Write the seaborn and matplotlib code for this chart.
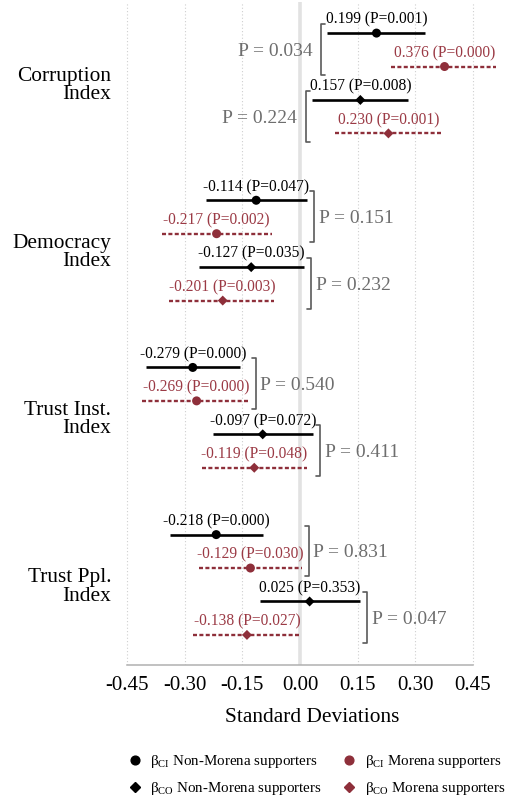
import numpy as np
import pandas as pd
import matplotlib
matplotlib.use("Agg")
import matplotlib.pyplot as plt
from matplotlib.lines import Line2D
import seaborn as sns

# ---- data -------------------------------------------------------------
indices = ["Corruption\nIndex", "Democracy\nIndex", "Trust Inst.\nIndex", "Trust Ppl.\nIndex"]
estimators = ["CI", "CI", "CO", "CO"]
groups = ["Non-Morena", "Morena", "Non-Morena", "Morena"]

coef = [
    [0.199, 0.376, 0.157, 0.230],
    [-0.114, -0.217, -0.127, -0.201],
    [-0.279, -0.269, -0.097, -0.119],
    [-0.218, -0.129, 0.025, -0.138],
]
pval = [
    [0.001, 0.000, 0.008, 0.001],
    [0.047, 0.002, 0.035, 0.003],
    [0.000, 0.000, 0.072, 0.048],
    [0.000, 0.030, 0.353, 0.027],
]
ci_low = [
    [0.070, 0.237, 0.031, 0.091],
    [-0.245, -0.359, -0.263, -0.340],
    [-0.401, -0.411, -0.226, -0.256],
    [-0.338, -0.263, -0.104, -0.278],
]
ci_high = [
    [0.325, 0.510, 0.281, 0.367],
    [0.018, -0.073, 0.010, -0.068],
    [-0.155, -0.134, 0.033, 0.017],
    [-0.095, 0.004, 0.156, -0.003],
]
# P-values for the Morena vs non-Morena difference (CI pair, CO pair)
diff_p = [
    [0.034, 0.224],
    [0.151, 0.232],
    [0.540, 0.411],
    [0.831, 0.047],
]
xticks = [-0.45, -0.30, -0.15, 0.00, 0.15, 0.30, 0.45]

# ---- long table -------------------------------------------------------
rows = []
for g, name in enumerate(indices):
    for k in range(4):
        rows.append(dict(index=name, pos=g * 5 + k, estimator=estimators[k],
                         group=groups[k], coef=coef[g][k], p=pval[g][k],
                         lo=ci_low[g][k], hi=ci_high[g][k]))
df = pd.DataFrame(rows)

# ---- style ------------------------------------------------------------
sns.set_theme(style="white")
plt.rcParams["font.family"] = ["Liberation Serif", "DejaVu Serif"]
plt.rcParams["mathtext.fontset"] = "custom"
plt.rcParams["mathtext.rm"] = "Liberation Serif"
plt.rcParams["axes.unicode_minus"] = False
for key in ["text.color", "axes.labelcolor", "xtick.labelcolor", "ytick.labelcolor"]:
    plt.rcParams[key] = "black"

BLACK = "#000000"
RED = "#8e2f3a"
RED_TXT = "#9b3a45"
GREY_TXT = "#6e6e6e"
BRACKET = "#5a5a5a"
palette = {"Non-Morena": BLACK, "Morena": RED}

fig = plt.figure(figsize=(5.06, 7.99), dpi=100)
W, H = 506, 799
ax_l, ax_r, ax_t, ax_b = 118, 506, 2, 665
ax = fig.add_axes([ax_l / W, 1 - ax_b / H, (ax_r - ax_l) / W, (ax_b - ax_t) / H])

# background guides
for xt in xticks:
    ax.axvline(xt, color="#cfcfcf", lw=0.8, ls=(0, (1, 2)), zorder=0)
ax.axvline(0, color="#e2e2e2", lw=2.6, zorder=0.5)

# confidence intervals
for _, r in df.iterrows():
    if r.group == "Morena":
        ax.plot([r.lo, r.hi], [r.pos, r.pos], color=RED, lw=1.7,
                ls=(0, (1.7, 1.0)), solid_capstyle="butt", zorder=2)
    else:
        ax.plot([r.lo, r.hi], [r.pos, r.pos], color=BLACK, lw=1.9,
                solid_capstyle="butt", zorder=2)

# point estimates
sub_o = df[df.estimator == "CI"]
sub_d = df[df.estimator == "CO"]
sns.scatterplot(data=sub_o, x="coef", y="pos", hue="group", palette=palette,
                marker="o", s=42, linewidth=0, legend=False, ax=ax, zorder=3)
sns.scatterplot(data=sub_d, x="coef", y="pos", hue="group", palette=palette,
                marker="D", s=26, linewidth=0, legend=False, ax=ax, zorder=3)

# coefficient labels
for _, r in df.iterrows():
    col = RED_TXT if r.group == "Morena" else BLACK
    ax.text(r.coef, r.pos - 0.40, f"{r.coef:.3f} (P={r.p:.3f})",
            ha="center", va="center", fontsize=11.2, color=col, zorder=4)

# difference brackets
tick = 0.011
for g in range(4):
    for j in range(2):
        k0 = 2 * j
        y0 = g * 5 + k0 - 0.27
        y1 = g * 5 + k0 + 1 + 0.25
        ym = g * 5 + k0 + 0.55
        los = ci_low[g][k0:k0 + 2]
        his = ci_high[g][k0:k0 + 2]
        if np.mean(coef[g]) > 0:
            bx = min(los) - 0.016
            ax.plot([bx + tick, bx, bx, bx + tick], [y0, y0, y1, y1],
                    color=BRACKET, lw=1.2, zorder=2)
            ax.text(bx - 0.022, ym, f"P = {diff_p[g][j]:.3f}", ha="right",
                    va="center", fontsize=14, color=GREY_TXT)
        else:
            bx = max(his) + 0.019
            ax.plot([bx - tick, bx, bx, bx - tick], [y0, y0, y1, y1],
                    color=BRACKET, lw=1.2, zorder=2)
            ax.text(bx + 0.012, ym, f"P = {diff_p[g][j]:.3f}", ha="left",
                    va="center", fontsize=14, color=GREY_TXT)

# axes
ax.set_xlim((ax_l - 300) / 384.4, (ax_r - 300) / 384.4)
ax.set_ylim(18.9, -0.93)
ax.set_xticks(xticks)
ax.set_xticklabels([f"{v:.2f}" for v in xticks], fontsize=15)
ax.set_yticks([g * 5 + 1.5 for g in range(4)])
ax.set_yticklabels(indices, fontsize=15.4, linespacing=0.95, ha="right")
ax.tick_params(axis="y", length=0, pad=5)
ax.tick_params(axis="x", length=4, width=1, color="#b0b0b0", pad=4, direction="out")
for s in ["top", "right", "left"]:
    ax.spines[s].set_visible(False)
ax.spines["bottom"].set_color("#b0b0b0")
ax.spines["bottom"].set_linewidth(1.1)
ax.spines["bottom"].set_bounds(-0.45, 0.45)
ax.set_xlabel("Standard Deviations", fontsize=15.4, labelpad=9)
ax.set_ylabel("")
ax.grid(False)

# legend
handles = [
    Line2D([], [], marker="o", ls="", color=BLACK, markersize=6.3),
    Line2D([], [], marker="D", ls="", color=BLACK, markersize=5.0),
    Line2D([], [], marker="o", ls="", color=RED, markersize=6.3),
    Line2D([], [], marker="D", ls="", color=RED, markersize=5.0),
]
labels = [
    r"β$_{\mathrm{CI}}$ Non-Morena supporters",
    r"β$_{\mathrm{CO}}$ Non-Morena supporters",
    r"β$_{\mathrm{CI}}$ Morena supporters",
    r"β$_{\mathrm{CO}}$ Morena supporters",
]
fig.legend(handles, labels, ncol=2, loc="upper left",
           bbox_to_anchor=(115 / W, 1 - 740 / H), frameon=False,
           fontsize=10.8, handlelength=0.8, handletextpad=0.65,
           columnspacing=1.4, labelspacing=0.62)

fig.savefig("out.png", dpi=100)
